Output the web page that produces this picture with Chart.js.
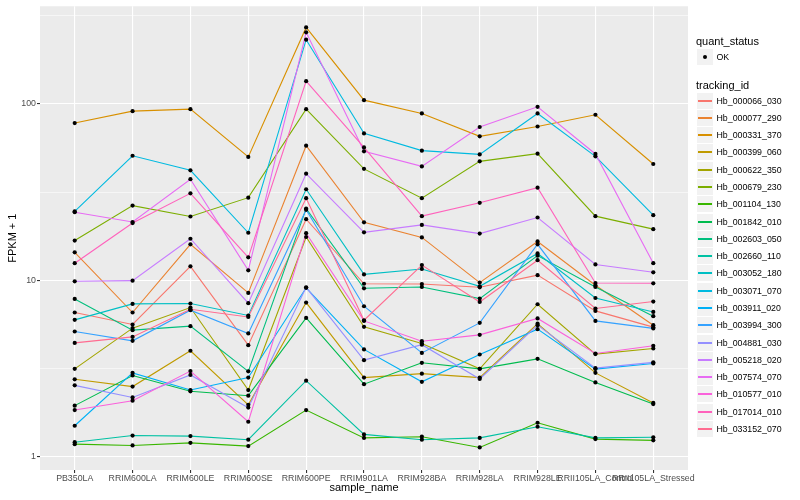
<!DOCTYPE html>
<html>
<head>
<meta charset="utf-8">
<script src="https://cdn.jsdelivr.net/npm/chart.js@4"></script>
<style>
  html, body { margin: 0; padding: 0; background: #fff; }
  #wrap { position: relative; width: 800px; height: 500px; font-family: "Liberation Sans", Arial, Helvetica, sans-serif; }
  #c { position: absolute; left: 0; top: 0; }
  .lg { position: absolute; white-space: nowrap; }
  .ttl { font-size: 11px; color: #000; line-height: 12px; }
  .key { position: absolute; width: 16px; height: 16px; background: #F2F2F2; }
  .key .ln { position: absolute; left: 1px; width: 14px; top: 7px; height: 2px; }
  .key .dot { position: absolute; left: 6px; top: 6px; width: 4px; height: 4px; border-radius: 50%; background: #000; }
  .txt { font-size: 8.8px; color: #000; line-height: 10px; }
</style>
</head>
<body>
<div id="wrap">
  <canvas id="c" width="800" height="500"></canvas>
  <div id="legend"></div>
</div>
<script>
// ---- data ----
const categories = ["PB350LA", "RRIM600LA", "RRIM600LE", "RRIM600SE", "RRIM600PE", "RRIM901LA",
  "RRIM928BA", "RRIM928LA", "RRIM928LE", "RRII105LA_Control", "RRII105LA_Stressed"];

const seriesNames = ["Hb_000066_030", "Hb_000077_290", "Hb_000331_370", "Hb_000399_060", "Hb_000622_350",
  "Hb_000679_230", "Hb_001104_130", "Hb_001842_010", "Hb_002603_050", "Hb_002660_110",
  "Hb_003052_180", "Hb_003071_070", "Hb_003911_020", "Hb_003994_300", "Hb_004881_030",
  "Hb_005218_020", "Hb_007574_070", "Hb_010577_010", "Hb_017014_010", "Hb_033152_070"];

const seriesColors = ["#F8766D", "#EA8331", "#D89000", "#C09B00", "#A3A500", "#7CAE00", "#39B600", "#00BB4E",
  "#00BF7D", "#00C1A3", "#00BFC4", "#00BAE0", "#00B0F6", "#35A2FF", "#9590FF", "#C77CFF",
  "#E76BF3", "#FA62DB", "#FF62BC", "#FF6C91"];

const hb_000066_030 = [6.57, 5.62, 12.0, 4.29, 22.2, 9.56, 9.53, 9.13, 10.7, 6.71, 5.43];
const hb_000077_290 = [14.4, 6.57, 16.0, 8.48, 57.9, 21.3, 17.5, 9.71, 16.6, 9.37, 5.57];
const hb_000331_370 = [77.8, 90.9, 93.3, 50.0, 271, 104.9, 88.2, 65.4, 74.4, 86.7, 45.6];
const hb_000399_060 = [2.75, 2.50, 3.99, 1.97, 7.48, 2.81, 2.96, 2.81, 5.68, 2.99, 2.02];
const hb_000622_350 = [3.15, 5.36, 7.01, 2.39, 17.6, 5.45, 4.39, 3.15, 7.32, 3.82, 4.11];
const hb_000679_230 = [16.8, 26.5, 23.0, 29.4, 93.3, 42.8, 29.2, 47.2, 52.2, 23.1, 19.5];
const hb_001104_130 = [1.18, 1.16, 1.20, 1.15, 1.84, 1.28, 1.30, 1.13, 1.56, 1.26, 1.24];
const hb_001842_010 = [1.95, 2.89, 2.35, 2.22, 6.12, 2.58, 3.41, 3.15, 3.59, 2.64, 1.99];
const hb_002603_050 = [7.84, 5.22, 5.50, 3.05, 25.5, 9.01, 9.17, 7.88, 13.8, 9.17, 6.26];
const hb_002660_110 = [1.21, 1.32, 1.31, 1.25, 2.70, 1.34, 1.25, 1.28, 1.48, 1.28, 1.29];
const hb_003052_180 = [5.97, 7.35, 7.39, 6.32, 32.8, 10.8, 11.6, 9.25, 14.2, 7.94, 6.62];
const hb_003071_070 = [24.6, 50.8, 42.0, 18.6, 230.8, 68.0, 54.3, 51.7, 88.2, 50.4, 23.4];
const hb_003911_020 = [1.50, 2.99, 2.39, 2.81, 9.07, 4.06, 2.66, 3.80, 5.29, 3.14, 3.38];
const hb_003994_300 = [5.13, 4.54, 6.77, 5.00, 25.1, 7.13, 3.88, 5.74, 16.0, 5.89, 5.34];
const hb_004881_030 = [2.54, 2.17, 2.91, 1.90, 9.13, 3.53, 4.32, 2.76, 5.57, 3.18, 3.43];
const hb_005218_020 = [9.87, 9.96, 17.2, 7.42, 40.2, 18.7, 20.6, 18.4, 22.7, 12.3, 11.1];
const hb_007574_070 = [24.3, 21.4, 37.4, 11.4, 254.2, 53.8, 44.2, 73.9, 96.2, 52.0, 12.5];
const hb_010577_010 = [1.84, 2.08, 3.06, 1.58, 18.5, 5.89, 4.52, 4.91, 6.08, 3.85, 4.26];
const hb_017014_010 = [12.5, 21.1, 31.1, 13.5, 134.4, 56.6, 23.1, 27.5, 33.5, 9.65, 9.62];
const hb_033152_070 = [4.42, 4.78, 6.86, 6.20, 29.2, 5.94, 12.2, 7.54, 13.0, 6.92, 7.58];

const seriesValues = [hb_000066_030, hb_000077_290, hb_000331_370, hb_000399_060, hb_000622_350,
  hb_000679_230, hb_001104_130, hb_001842_010, hb_002603_050, hb_002660_110,
  hb_003052_180, hb_003071_070, hb_003911_020, hb_003994_300, hb_004881_030,
  hb_005218_020, hb_007574_070, hb_010577_010, hb_017014_010, hb_033152_070];

const yMajorTicks = [1, 10, 100];
const yMinorTicks = [3.1623, 31.623, 316.23];

// ---- chart ----
const toXY = vals => vals.map((v, i) => ({ x: i + 1, y: v }));

const lineSets = seriesValues.map((vals, k) => ({
  label: seriesNames[k],
  data: toXY(vals),
  borderColor: seriesColors[k],
  backgroundColor: seriesColors[k],
  borderWidth: 1.1,
  pointRadius: 0,
  tension: 0,
  fill: false,
  order: 100 - k
}));
const pointSets = seriesValues.map((vals, k) => ({
  label: seriesNames[k] + " OK",
  data: toXY(vals),
  showLine: false,
  pointRadius: 2.1,
  pointBackgroundColor: "#000",
  pointBorderWidth: 0,
  order: 0
}));

const panelBg = {
  id: "panelBg",
  beforeDraw(chart) {
    const { ctx, chartArea: a } = chart;
    ctx.save();
    ctx.fillStyle = "#EBEBEB";
    ctx.fillRect(a.left, a.top, a.right - a.left, a.bottom - a.top);
    ctx.restore();
  }
};

const tickFont = { family: "'Liberation Sans', Arial, Helvetica, sans-serif", size: 8.8 };
const titleFont = { family: "'Liberation Sans', Arial, Helvetica, sans-serif", size: 11 };

new Chart(document.getElementById("c"), {
  type: "line",
  data: { datasets: [...lineSets, ...pointSets] },
  plugins: [panelBg],
  options: {
    responsive: false,
    animation: false,
    devicePixelRatio: 1,
    layout: { padding: { top: 5, right: 112, left: 0, bottom: 0 } },
    plugins: { legend: { display: false }, tooltip: { enabled: false } },
    scales: {
      x: {
        type: "linear",
        min: 0.4,
        max: 11.6,
        afterBuildTicks: s => { s.ticks = categories.map((c, i) => ({ value: i + 1 })); },
        afterFit: s => { s.height = 30; },
        ticks: {
          autoSkip: false, maxRotation: 0, minRotation: 0, padding: 0,
          color: "#4D4D4D", font: tickFont,
          callback: v => categories[Math.round(v) - 1] || ""
        },
        grid: { color: "#FFFFFF", lineWidth: 1.1, tickColor: "#333333", tickLength: 3 },
        border: { display: false },
        title: { display: true, text: "sample_name", color: "#000", font: titleFont, padding: { top: 0, bottom: 5 } }
      },
      y: {
        type: "logarithmic",
        min: 0.842,
        max: 357,
        afterBuildTicks: s => {
          s.ticks = [0.31623, ...yMajorTicks, ...yMinorTicks].sort((a, b) => a - b).map(v => ({ value: v }));
        },
        afterFit: s => { s.width = 40; },
        ticks: {
          padding: 1, color: "#4D4D4D", font: tickFont,
          callback: v => (yMajorTicks.includes(v) ? String(v) : "")
        },
        grid: {
          color: "#FFFFFF",
          lineWidth: c => (c.tick && yMajorTicks.includes(c.tick.value) ? 1.1 : 0.55),
          tickColor: c => (c.tick && yMajorTicks.includes(c.tick.value) ? "#333333" : "rgba(0,0,0,0)"),
          tickLength: 3
        },
        border: { display: false },
        title: { display: true, text: "FPKM + 1", color: "#000", font: titleFont, padding: { top: 6, bottom: 0 } }
      }
    }
  }
});

// ---- legend (HTML) ----
const lg = document.getElementById("legend");
function add(html, left, top, cls) {
  const d = document.createElement("div");
  d.className = "lg " + cls;
  d.style.left = left + "px";
  d.style.top = top + "px";
  d.innerHTML = html;
  lg.appendChild(d);
  return d;
}
add("quant_status", 696, 34.5, "ttl");
add('<div class="dot"></div>', 697, 49, "key");
add("OK", 716.5, 52, "txt");
add("tracking_id", 696, 79, "ttl");
seriesNames.forEach((n, i) => {
  const cy = 100.5 + i * 17.29;
  add('<div class="ln" style="background:' + seriesColors[i] + '"></div>', 697, Math.round(cy - 8), "key");
  add(n, 716.5, Math.round(cy - 5), "txt");
});
</script>
</body>
</html>
